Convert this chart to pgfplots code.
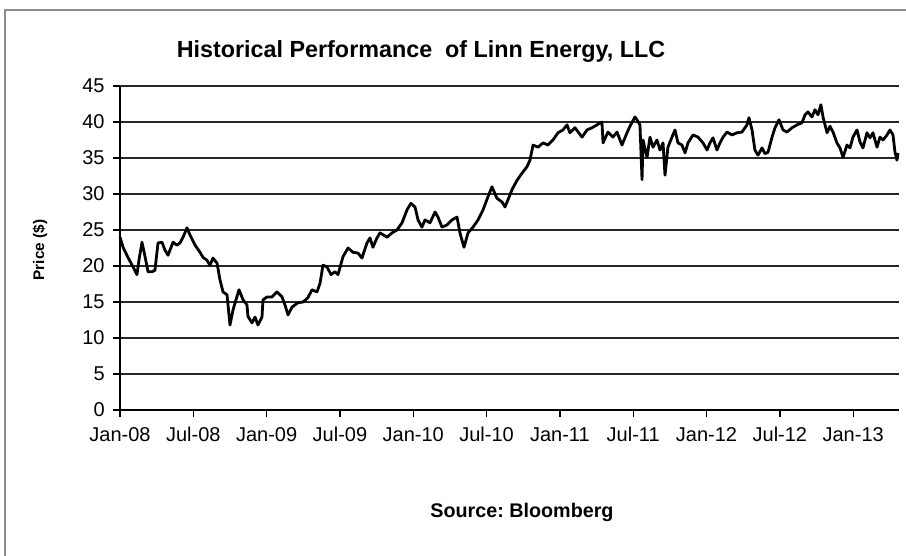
\documentclass[border=0pt]{standalone}
\usepackage{pgfplots}
\pgfplotsset{compat=1.18}
\usepackage{fontspec}
\setmainfont{Liberation Sans}
\frenchspacing
\pgfplotstableread{
m v
0 24.0
0.25 22.6
0.65 21.2
1.06 19.9
1.39 18.8
1.55 20.8
1.80 23.3
2.05 21.3
2.29 19.2
2.62 19.2
2.86 19.4
3.11 23.2
3.44 23.3
3.68 22.2
3.93 21.5
4.34 23.3
4.66 22.9
4.91 23.2
5.16 24.0
5.48 25.3
5.73 24.3
6.14 22.9
6.55 21.9
6.79 21.2
7.12 20.8
7.36 20.1
7.61 21.1
7.94 20.4
8.18 18.1
8.43 16.4
8.76 16.0
9.00 11.8
9.25 13.9
9.49 15.3
9.74 16.7
10.07 15.3
10.39 14.6
10.47 13.0
10.80 12.1
11.05 12.9
11.29 11.8
11.62 12.9
11.70 15.3
12.03 15.7
12.44 15.7
12.85 16.4
13.26 15.7
13.50 14.6
13.75 13.2
14.08 14.3
14.57 14.9
14.98 15.0
15.38 15.6
15.71 16.7
16.12 16.4
16.37 17.6
16.61 20.1
16.94 19.9
17.27 18.8
17.59 19.2
17.84 18.8
18.25 21.3
18.66 22.5
19.07 21.9
19.48 21.8
19.80 21.1
20.21 23.2
20.46 23.9
20.70 22.6
21.03 23.9
21.28 24.6
21.85 24.0
22.26 24.6
22.67 25.0
23.08 26.0
23.49 27.8
23.81 28.7
24.14 28.2
24.39 26.4
24.71 25.4
24.96 26.4
25.37 26.0
25.78 27.5
26.02 26.8
26.35 25.4
26.76 25.7
27.17 26.4
27.58 26.8
27.82 24.6
28.15 22.6
28.48 24.6
28.89 25.4
29.30 26.4
29.71 27.8
30.11 29.6
30.44 31.0
30.85 29.4
31.26 28.9
31.51 28.2
32.08 30.6
32.49 31.9
32.90 32.9
33.31 33.8
33.55 34.7
33.80 36.8
34.21 36.5
34.62 37.1
35.02 36.8
35.43 37.5
35.84 38.5
36.25 38.9
36.58 39.6
36.82 38.5
37.23 39.2
37.81 37.9
38.22 38.9
38.63 39.2
39.03 39.6
39.44 40.0
39.53 37.1
39.93 38.6
40.34 37.9
40.67 38.6
41.08 36.8
41.49 38.5
41.73 39.4
42.14 40.7
42.31 40.3
42.55 39.6
42.72 32.0
42.80 37.5
43.13 35.1
43.37 37.9
43.62 36.5
43.94 37.5
44.19 36.1
44.44 37.1
44.60 32.6
44.84 36.5
45.17 37.9
45.42 38.9
45.66 37.1
45.99 36.8
46.24 35.7
46.48 37.1
46.89 38.2
47.30 37.9
47.71 37.1
48.04 36.1
48.28 37.1
48.53 37.8
48.85 36.1
49.10 37.1
49.35 37.9
49.67 38.6
50.08 38.2
50.49 38.5
50.90 38.6
51.31 39.6
51.47 40.6
51.72 38.9
51.96 36.1
52.21 35.4
52.54 36.4
52.78 35.6
53.03 35.8
53.36 37.9
53.60 39.2
53.93 40.3
54.26 38.9
54.58 38.6
54.99 39.2
55.40 39.6
55.81 39.9
56.06 41.0
56.30 41.4
56.63 40.7
56.87 41.7
57.12 41.0
57.36 42.4
57.53 40.7
57.86 38.5
58.10 39.4
58.35 38.6
58.67 37.1
58.92 36.4
59.17 35.1
59.49 36.8
59.74 36.4
59.98 37.9
60.31 38.9
60.56 37.2
60.80 36.4
61.13 38.5
61.37 37.8
61.62 38.5
61.95 36.5
62.19 37.9
62.44 37.5
62.77 38.2
63.01 38.9
63.26 38.2
63.42 35.8
63.58 34.7
63.67 35.7
}\prices
\begin{document}
\begin{tikzpicture}
\useasboundingbox (0pt,0pt) rectangle (679.5pt,417pt);
\fill[white] (0pt,0pt) rectangle (679.5pt,417pt);
\draw[black!45, line width=1.5pt] (3.75pt,0pt) -- (3.75pt,409.5pt) -- (679.5pt,409.5pt);
\begin{axis}[
  at={(90pt,109.5pt)}, anchor=south west,
  scale only axis, width=584.25pt, height=243pt,
  xmin=0, xmax=63.75, ymin=0, ymax=45,
  axis x line=bottom, axis y line=left,
  axis line style={black, line width=1pt, -},
  xtick={0,6,...,60},
  xticklabels={Jan-08,Jul-08,Jan-09,Jul-09,Jan-10,Jul-10,Jan-11,Jul-11,Jan-12,Jul-12,Jan-13},
  ytick={0,5,...,45},
  ymajorgrids, grid style={black!85, line width=1pt},
  tick align=outside, major tick length=5pt,
  tick style={black, line width=1pt},
  /pgf/number format/assume math mode=true,
  tick label style={font=\fontsize{15}{17}\selectfont},
  xticklabel style={yshift=-4pt, text height=11pt, text depth=3pt},
  yticklabel style={xshift=-3pt},
  clip=false,
]
\addplot[black, line width=2.1pt, line join=round] table[x=m, y=v] {\prices};
\end{axis}
\node[font=\bfseries\fontsize{17.5}{20}\selectfont] at (315.75pt,378pt) {Historical Performance\ \ of Linn Energy, LLC};
\node[font=\bfseries\fontsize{11.5}{14}\selectfont, rotate=90] at (30pt,229.5pt) {Price (\$)};
\node[font=\bfseries\fontsize{14.8}{17}\selectfont] at (391.5pt,33pt) {Source: Bloomberg};
\end{tikzpicture}
\end{document}
